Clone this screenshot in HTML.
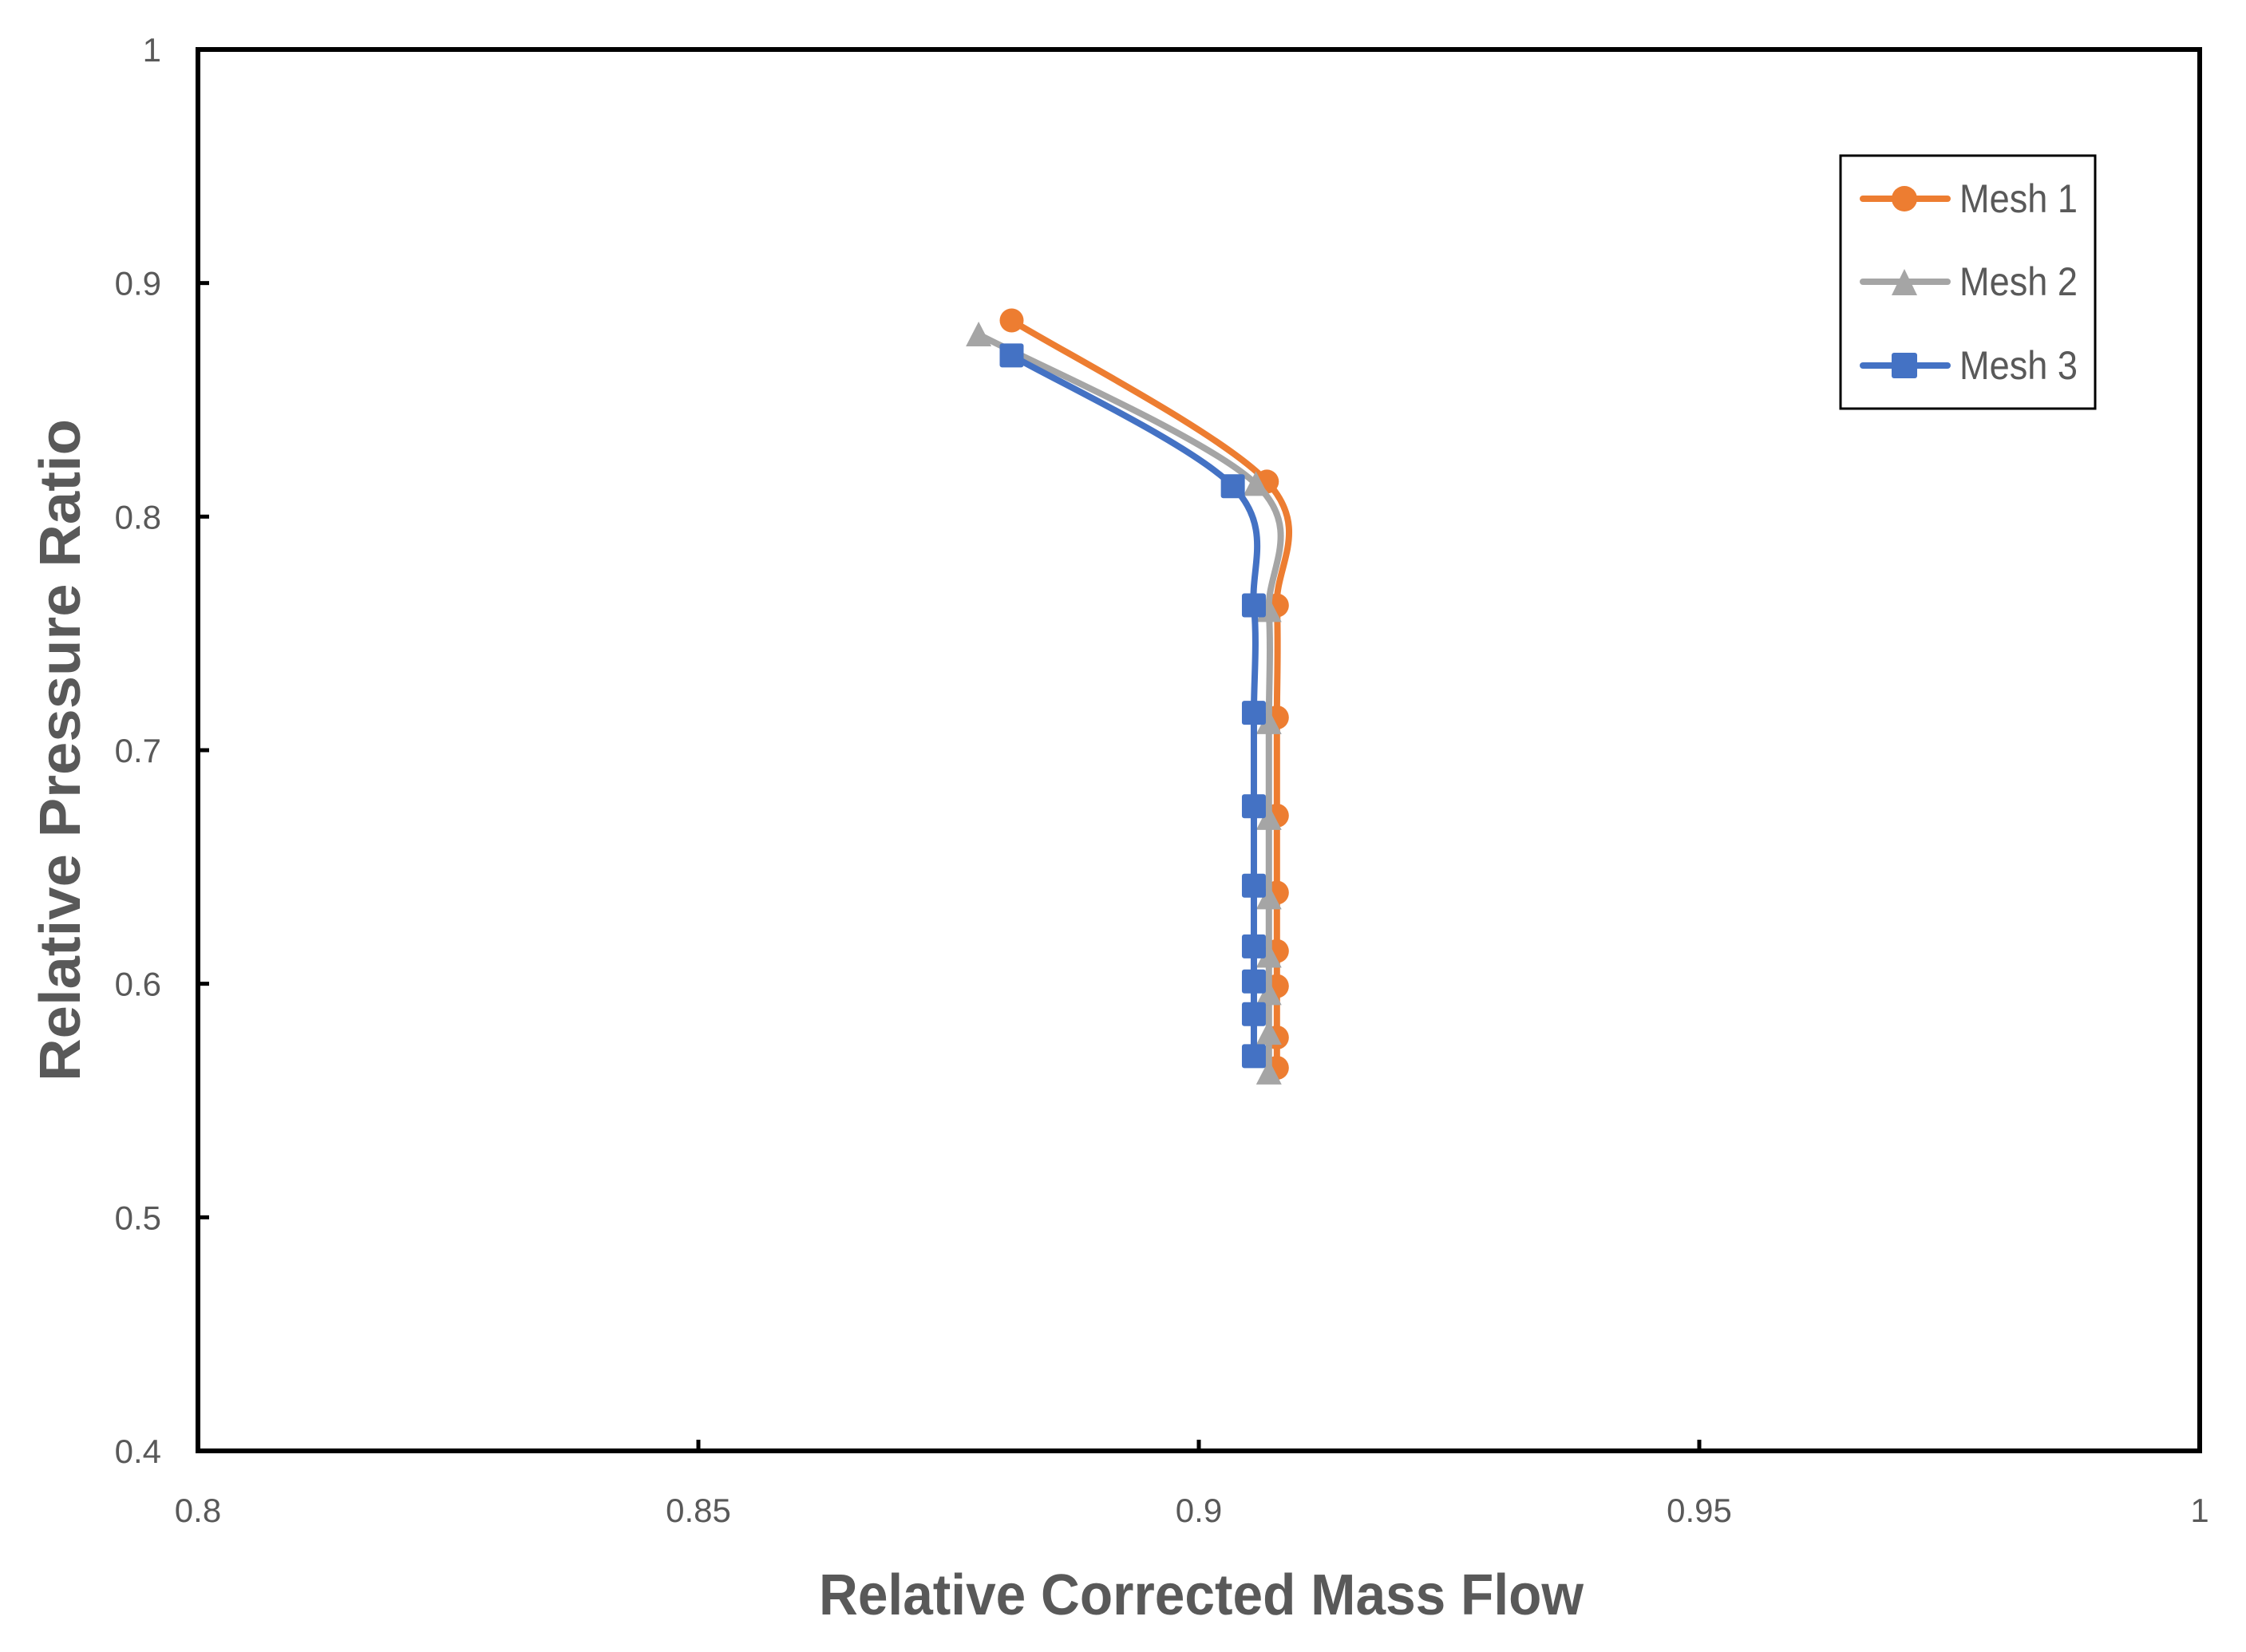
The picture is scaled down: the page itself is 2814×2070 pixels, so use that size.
<!DOCTYPE html>
<html><head><meta charset="utf-8"><style>
html,body{margin:0;padding:0;background:#fff;}
svg{display:block;}
text{font-family:"Liberation Sans",sans-serif;}
</style></head><body>
<svg id="chart" width="2814" height="2070" viewBox="0 0 2814 2070" xmlns="http://www.w3.org/2000/svg">
<rect x="0" y="0" width="2814" height="2070" fill="#fff"/>
<g id="series"></g>
<rect x="248" y="62" width="2508" height="1756" fill="none" stroke="#000" stroke-width="6"/>
<g id="axes"></g>
<text x="1505" y="2023" text-anchor="middle" font-size="72" font-weight="bold" fill="#595959" textLength="958" lengthAdjust="spacingAndGlyphs">Relative Corrected Mass Flow</text>
<text transform="translate(100,940) rotate(-90)" text-anchor="middle" font-size="72" font-weight="bold" fill="#595959" textLength="830" lengthAdjust="spacingAndGlyphs">Relative Pressure Ratio</text>
<g>
<rect x="2306" y="195" width="319" height="317" fill="#fff" stroke="#000" stroke-width="3"/>
<g>
<line x1="2334" y1="249" x2="2440" y2="249" stroke="#ED7D31" stroke-width="8" stroke-linecap="round"/>
<circle cx="2386" cy="249" r="16" fill="#ED7D31"/>
<text x="2455" y="266" font-size="50" fill="#595959" textLength="148" lengthAdjust="spacingAndGlyphs">Mesh 1</text></g>
<g>
<line x1="2334" y1="353" x2="2440" y2="353" stroke="#A5A5A5" stroke-width="8" stroke-linecap="round"/>
<polygon points="2386,337 2402,370 2370,370" fill="#A5A5A5"/>
<text x="2455" y="370" font-size="50" fill="#595959" textLength="148" lengthAdjust="spacingAndGlyphs">Mesh 2</text></g>
<g>
<line x1="2334" y1="458" x2="2440" y2="458" stroke="#4472C4" stroke-width="8" stroke-linecap="round"/>
<rect x="2370" y="442" width="32" height="32" rx="3" fill="#4472C4"/>
<text x="2455" y="475" font-size="50" fill="#595959" textLength="148" lengthAdjust="spacingAndGlyphs">Mesh 3</text></g>
</g>
</svg>
<script>
const xTicks = [0.8, 0.85, 0.9, 0.95, 1];
const xTickLabels = ["0.8", "0.85", "0.9", "0.95", "1"];
const yTicks = [0.4, 0.5, 0.6, 0.7, 0.8, 0.9, 1];
const yTickLabels = ["0.4", "0.5", "0.6", "0.7", "0.8", "0.9", "1"];
const mesh1X = [0.8813, 0.9068, 0.9078, 0.9078, 0.9078, 0.9078, 0.9078, 0.9078, 0.9078, 0.9078];
const mesh1Y = [0.884, 0.815, 0.762, 0.714, 0.672, 0.639, 0.614, 0.599, 0.577, 0.564];
const mesh2X = [0.878, 0.9057, 0.907, 0.907, 0.907, 0.907, 0.907, 0.907, 0.907, 0.907];
const mesh2Y = [0.878, 0.814, 0.760, 0.712, 0.671, 0.637, 0.612, 0.596, 0.579, 0.562];
const mesh3X = [0.8813, 0.9034, 0.9055, 0.9055, 0.9055, 0.9055, 0.9055, 0.9055, 0.9055, 0.9055];
const mesh3Y = [0.869, 0.813, 0.762, 0.716, 0.676, 0.642, 0.616, 0.601, 0.587, 0.569];

const L=248,R=2756,T=62,B=1818;
const xs=v=>L+(v-0.8)/0.2*(R-L);
const ys=v=>B-(v-0.4)/0.6*(B-T);
const NS="http://www.w3.org/2000/svg";
const axes=document.getElementById('axes');
const ser=document.getElementById('series');
function mk(tag,attrs,parent){const e=document.createElementNS(NS,tag);for(const k in attrs)e.setAttribute(k,attrs[k]);parent.appendChild(e);return e;}
xTicks.forEach((v,i)=>{
  const x=xs(v);
  if(i>0&&i<xTicks.length-1){const t=mk('line',{x1:x,y1:B,x2:x,y2:B-14,stroke:'#000','stroke-width':5},axes);
  
  }
  const lb=mk('text',{x:x,y:1907,'text-anchor':'middle','font-size':42,fill:'#595959'},axes);
  lb.textContent=xTickLabels[i];
  
  
});
yTicks.forEach((v,i)=>{
  const y=ys(v);
  if(i>0&&i<yTicks.length-1){const t=mk('line',{x1:L,y1:y,x2:L+14,y2:y,stroke:'#000','stroke-width':5},axes);
  
  }
  const lb=mk('text',{x:202,y:y+15,'text-anchor':'end','font-size':42,fill:'#595959'},axes);
  lb.textContent=yTickLabels[i];
  
  
});
function smooth(pts){
  let d='M'+pts[0][0]+','+pts[0][1];
  for(let i=0;i<pts.length-1;i++){
    const p0=pts[i-1]||pts[i],p1=pts[i],p2=pts[i+1],p3=pts[i+2]||p2;
    const c1=[p1[0]+(p2[0]-p0[0])/6,p1[1]+(p2[1]-p0[1])/6];
    const c2=[p2[0]-(p3[0]-p1[0])/6,p2[1]-(p3[1]-p1[1])/6];
    d+=' C'+c1[0]+','+c1[1]+' '+c2[0]+','+c2[1]+' '+p2[0]+','+p2[1];
  }
  return d;
}
function drawSeries(X,Y,color,shape,name){
  const g=mk('g',{},ser);
  
  
  const pts=X.map((v,i)=>[xs(v),ys(Y[i])]);
  const p=mk('path',{d:smooth(pts),fill:'none',stroke:color,'stroke-width':8,'stroke-linejoin':'round','stroke-linecap':'round'},g);
  
  
  pts.forEach(([x,y])=>{
    let m;
    if(shape==='circle') m=mk('circle',{cx:x,cy:y,r:15,fill:color},g);
    else if(shape==='tri') m=mk('polygon',{points:`${x},${y-16} ${x+16},${y+15} ${x-16},${y+15}`,fill:color},g);
    else m=mk('rect',{x:x-15,y:y-15,width:30,height:30,rx:3,fill:color},g);
    
    
  });
}
drawSeries(mesh1X,mesh1Y,'#ED7D31','circle','mesh-1-series');
drawSeries(mesh2X,mesh2Y,'#A5A5A5','tri','mesh-2-series');
drawSeries(mesh3X,mesh3Y,'#4472C4','square','mesh-3-series');
</script>
</body></html>
